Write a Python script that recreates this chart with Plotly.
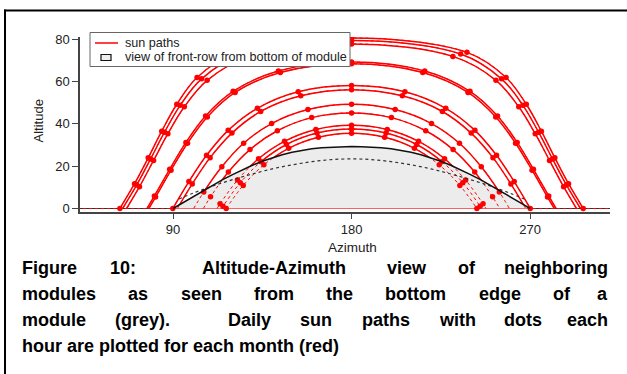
import plotly.graph_objects as go

# ---------------------------------------------------------------------------
# Sun position on each solar hour (azimuth, altitude in degrees), one list per
# month, morning to evening.  *_RISE / *_SET give the horizon crossing where it
# falls between two hours (None when it coincides with an hour point).
# ---------------------------------------------------------------------------
JAN_AZ = [115.2, 123.9, 134.4, 147.2, 162.6, 180.0, 197.4, 212.8, 225.6, 236.1, 244.8]
JAN_ALT = [1.1, 12.2, 22.1, 30.2, 35.6, 37.5, 35.6, 30.2, 22.1, 12.2, 1.1]
JAN_RISE, JAN_SET = 114.4, 245.6

FEB_AZ = [108.9, 117.9, 128.8, 142.6, 159.9, 180.0, 200.1, 217.4, 231.2, 242.1, 251.1]
FEB_ALT = [5.5, 17.2, 27.8, 36.7, 42.9, 45.1, 42.9, 36.7, 27.8, 17.2, 5.5]
FEB_RISE, FEB_SET = 105.3, 254.7

MAR_AZ = [99.7, 108.7, 119.7, 134.2, 154.4, 180.0, 205.6, 225.8, 240.3, 251.3, 260.3]
MAR_ALT = [11.6, 24.0, 35.6, 45.8, 53.2, 56.1, 53.2, 45.8, 35.6, 24.0, 11.6]
MAR_RISE, MAR_SET = 92.2, 267.8

APR_AZ = [81.2, 89.0, 97.3, 107.3, 121.3, 144.1, 180.0, 215.9, 238.7, 252.7, 262.7, 271.0, 278.8]
APR_ALT = [5.4, 18.1, 30.8, 43.2, 54.8, 64.2, 68.3, 64.2, 54.8, 43.2, 30.8, 18.1, 5.4]
APR_RISE, APR_SET = 77.8, 282.2

MAY_AZ = [73.1, 80.2, 87.4, 95.7, 107.2, 128.9, 180.0, 231.1, 252.8, 264.3, 272.6, 279.8, 286.9]
MAY_ALT = [10.3, 22.7, 35.3, 48.0, 60.5, 71.8, 77.7, 71.8, 60.5, 48.0, 35.3, 22.7, 10.3]
MAY_RISE, MAY_SET = 66.6, 293.4

JUN_AZ = [63.2, 70.6, 77.5, 84.3, 91.9, 102.1, 121.8, 180.0, 238.2, 257.9, 268.1, 275.7, 282.5, 289.4, 296.8]
JUN_ALT = [0.0, 11.7, 23.9, 36.5, 49.2, 61.8, 73.7, 80.5, 73.7, 61.8, 49.2, 36.5, 23.9, 11.7, 0.0]
JUN_RISE, JUN_SET = None, None

JUL_AZ = [71.7, 78.7, 85.7, 93.6, 104.4, 125.0, 180.0, 235.0, 255.6, 266.4, 274.3, 281.3, 288.3]
JUL_ALT = [11.1, 23.4, 36.0, 48.7, 61.2, 72.9, 79.3, 72.9, 61.2, 48.7, 36.0, 23.4, 11.1]
JUL_RISE, JUL_SET = 64.6, 295.4

AUG_AZ = [80.6, 88.3, 96.5, 106.4, 120.3, 143.1, 180.0, 216.9, 239.7, 253.6, 263.5, 271.7, 279.4]
AUG_ALT = [5.9, 18.5, 31.2, 43.7, 55.3, 64.9, 69.1, 64.9, 55.3, 43.7, 31.2, 18.5, 5.9]
AUG_RISE, AUG_SET = 76.9, 283.1

SEP_AZ = [89.9, 98.0, 106.9, 117.8, 132.5, 153.1, 180.0, 206.9, 227.5, 242.2, 253.1, 262.0, 270.1]
SEP_ALT = [0.0, 12.7, 25.1, 36.9, 47.3, 55.1, 58.1, 55.1, 47.3, 36.9, 25.1, 12.7, 0.0]
SEP_RISE, SEP_SET = None, None

OCT_AZ = [105.5, 114.6, 125.6, 139.7, 158.0, 180.0, 202.0, 220.3, 234.4, 245.4, 254.5]
OCT_ALT = [7.8, 19.7, 30.8, 40.1, 46.7, 49.2, 46.7, 40.1, 30.8, 19.7, 7.8]
OCT_RISE, OCT_SET = 100.4, 259.6

NOV_AZ = [113.7, 122.5, 133.1, 146.2, 162.0, 180.0, 198.0, 213.8, 226.9, 237.5, 246.3]
NOV_ALT = [2.2, 13.4, 23.5, 31.7, 37.3, 39.3, 37.3, 31.7, 23.5, 13.4, 2.2]
NOV_RISE, NOV_SET = 112.2, 247.8

DEC_AZ = [116.8, 125.4, 135.8, 148.3, 163.3, 180.0, 196.7, 211.7, 224.2, 234.6, 243.2]
DEC_ALT = [0.0, 10.9, 20.6, 28.4, 33.6, 35.5, 33.6, 28.4, 20.6, 10.9, 0.0]
DEC_RISE, DEC_SET = None, None

# Top edge of the front row as seen from the bottom edge of a module
ROW_AZ = [90, 95, 100, 105, 110, 115, 120, 125, 130, 135, 140, 145, 150, 155, 160, 165, 170, 175, 180,
          185, 190, 195, 200, 205, 210, 215, 220, 225, 230, 235, 240, 245, 250, 255, 260, 265, 270]
ROW_ALT = [0.0, 2.8, 5.6, 8.3, 11.0, 13.6, 16.0, 18.3, 20.4, 22.3, 24.0, 25.4, 26.6, 27.5, 28.2, 28.7, 29.0, 29.2, 29.3,
           29.2, 29.0, 28.7, 28.2, 27.5, 26.6, 25.4, 24.0, 22.3, 20.4, 18.3, 16.0, 13.6, 11.0, 8.3, 5.6, 2.8, 0.0]

# Second (dashed) outline of the front row
EDGE_AZ = [93, 100, 110, 120, 130, 140, 150, 160, 170, 180, 190, 200, 210, 220, 230, 240, 250, 260, 267]
EDGE_ALT = [4.5, 7.2, 10.6, 13.6, 16.3, 18.7, 20.6, 22.1, 23.1, 23.4, 23.1, 22.1, 20.6, 18.7, 16.3, 13.6, 10.6, 7.2, 4.5]

# Horizon segments
HORIZON_AZ = [43.1, 310.3]
HORIZON_ALT = [0, 0]

X_TICKS = [90, 180, 270]
Y_TICKS = [0, 20, 40, 60, 80]

PATHS = [
    (JAN_AZ, JAN_ALT, JAN_RISE, JAN_SET), (FEB_AZ, FEB_ALT, FEB_RISE, FEB_SET),
    (MAR_AZ, MAR_ALT, MAR_RISE, MAR_SET), (APR_AZ, APR_ALT, APR_RISE, APR_SET),
    (MAY_AZ, MAY_ALT, MAY_RISE, MAY_SET), (JUN_AZ, JUN_ALT, JUN_RISE, JUN_SET),
    (JUL_AZ, JUL_ALT, JUL_RISE, JUL_SET), (AUG_AZ, AUG_ALT, AUG_RISE, AUG_SET),
    (SEP_AZ, SEP_ALT, SEP_RISE, SEP_SET), (OCT_AZ, OCT_ALT, OCT_RISE, OCT_SET),
    (NOV_AZ, NOV_ALT, NOV_RISE, NOV_SET), (DEC_AZ, DEC_ALT, DEC_RISE, DEC_SET),
]

RED = "#ff0000"
W, H = 627, 374
ML, MR, MT, MB = 80, 17, 37, 162
PW, PH = W - ML - MR, H - MT - MB


def px_x(px):
    return (px - ML) / PW


def px_y(py):
    return 1 - (py - MT) / PH


def full_path(az, alt, rise, sett):
    xs, ys = list(az), list(alt)
    if rise is not None:
        xs = [rise] + xs + [sett]
        ys = [0.0] + ys + [0.0]
    return xs, ys


fig = go.Figure()

# horizon: red trace line plus dark dotted line
fig.add_trace(go.Scatter(x=HORIZON_AZ, y=HORIZON_ALT, mode="lines",
                         line=dict(color=RED, width=1), hoverinfo="skip"))

# solid sun paths (the part behind the front row is covered by the grey area)
for az, alt, rise, sett in PATHS:
    xs, ys = full_path(az, alt, rise, sett)
    fig.add_trace(go.Scatter(x=xs, y=ys, mode="lines",
                             line=dict(color=RED, width=1.5, shape="spline"),
                             hoverinfo="skip"))

# front row seen from the bottom of the module
fig.add_trace(go.Scatter(x=ROW_AZ, y=ROW_ALT, mode="lines", fill="toself",
                         fillcolor="#ececec", line=dict(width=0), hoverinfo="skip"))

fig.add_trace(go.Scatter(x=[43.1, 90], y=[0, 0], mode="lines",
                         line=dict(color="#333333", width=1, dash="dot"), hoverinfo="skip"))
fig.add_trace(go.Scatter(x=[270, 310.3], y=[0, 0], mode="lines",
                         line=dict(color="#333333", width=1, dash="dot"), hoverinfo="skip"))
fig.add_trace(go.Scatter(x=[90, 270], y=[0, 0], mode="lines",
                         line=dict(color="#ff6060", width=1), hoverinfo="skip"))

# dotted sun paths visible through the grey area, with hourly dots
for az, alt, rise, sett in PATHS:
    xs, ys = full_path(az, alt, rise, sett)
    fig.add_trace(go.Scatter(x=xs, y=ys, mode="lines",
                             line=dict(color=RED, width=1, shape="spline", dash="dot"),
                             hoverinfo="skip"))
    fig.add_trace(go.Scatter(x=az, y=alt, mode="markers",
                             marker=dict(color=RED, size=5.5), hoverinfo="skip"))

fig.add_trace(go.Scatter(x=EDGE_AZ, y=EDGE_ALT, mode="lines",
                         line=dict(color="#333333", width=1.2, dash="dot", shape="spline"),
                         hoverinfo="skip"))
fig.add_trace(go.Scatter(x=ROW_AZ, y=ROW_ALT, mode="lines",
                         line=dict(color="#111111", width=1.5), hoverinfo="skip"))

FONT = "Liberation Sans, Arial, sans-serif"
AXIS_COLOR = "#444444"

fig.update_layout(
    width=W, height=H, margin=dict(l=ML, r=MR, t=MT, b=MB, pad=0),
    paper_bgcolor="white", plot_bgcolor="white", showlegend=False,
    font=dict(family=FONT, size=13, color="#222222"),
    xaxis=dict(range=[43.1, 310.3], tickvals=X_TICKS, ticks="outside", ticklen=5,
               tickwidth=1.2, tickcolor=AXIS_COLOR, showline=True, linecolor=AXIS_COLOR,
               linewidth=1.5, showgrid=False, zeroline=False, tickfont=dict(size=13)),
    yaxis=dict(range=[-1.65, 80.95], tickvals=Y_TICKS, ticks="outside", ticklen=6,
               tickwidth=1.2, tickcolor=AXIS_COLOR, showline=True, linecolor=AXIS_COLOR,
               linewidth=1.5, showgrid=False, zeroline=False, tickfont=dict(size=13)),
)

shapes = []
annotations = []

# axis titles
annotations.append(dict(text="Azimuth", x=px_x(352), y=px_y(247), xref="paper", yref="paper",
                        showarrow=False, font=dict(size=13.5), xanchor="center", yanchor="middle"))
annotations.append(dict(text="Altitude", x=px_x(37.5), y=px_y(121), xref="paper", yref="paper",
                        showarrow=False, font=dict(size=13), textangle=-90,
                        xanchor="center", yanchor="middle"))

# legend box
shapes.append(dict(type="rect", xref="paper", yref="paper", x0=px_x(90), x1=px_x(350),
                   y0=px_y(66.5), y1=px_y(32.5), line=dict(color="#666666", width=1),
                   fillcolor="white", layer="above"))
shapes.append(dict(type="line", xref="paper", yref="paper", x0=px_x(95), x1=px_x(118),
                   y0=px_y(43), y1=px_y(43), line=dict(color=RED, width=1.5), layer="above"))
shapes.append(dict(type="rect", xref="paper", yref="paper", x0=px_x(101), x1=px_x(111),
                   y0=px_y(60.5), y1=px_y(54.5), line=dict(color="#111111", width=1.2),
                   fillcolor="#eeeeee", layer="above"))
annotations.append(dict(text="sun paths", x=px_x(123), y=px_y(43), xref="paper", yref="paper",
                        showarrow=False, font=dict(size=12.6), xanchor="left", yanchor="middle"))
annotations.append(dict(text="view of front-row from bottom of module", x=px_x(123), y=px_y(57.5),
                        xref="paper", yref="paper", showarrow=False, font=dict(size=12.6),
                        xanchor="left", yanchor="middle"))

# figure frame (top and left rules)
shapes.append(dict(type="line", xref="paper", yref="paper", x0=px_x(4), x1=px_x(627),
                   y0=px_y(10.5), y1=px_y(10.5), line=dict(color="black", width=2), layer="above"))
shapes.append(dict(type="line", xref="paper", yref="paper", x0=px_x(5), x1=px_x(5),
                   y0=px_y(9.5), y1=px_y(374), line=dict(color="black", width=2), layer="above"))

# justified caption, placed word by word (left edge 20 px, right edge 610 px)
CAPTION = [
    (268, [("Figure", 20, "left"), ("10:", 107.9, "left"), ("Altitude-Azimuth", 199.6, "left"),
           ("view", 384.5, "left"), ("of", 456.4, "left"), ("neighboring", 610, "right")]),
    (294, [("modules", 20, "left"), ("as", 126.3, "left"), ("seen", 178.5, "left"),
           ("from", 251.8, "left"), ("the", 324.0, "left"), ("bottom", 383.3, "left"),
           ("edge", 476.5, "left"), ("of", 550.8, "left"), ("a", 610, "right")]),
    (320, [("module", 20, "left"), ("(grey).", 113.1, "left"), ("Daily", 226.3, "left"),
           ("sun", 298.4, "left"), ("paths", 359.5, "left"), ("with", 436.6, "left"),
           ("dots", 501.7, "left"), ("each", 610, "right")]),
    (346, [("hour are plotted for each month (red)", 20, "left")]),
]
for yc, words in CAPTION:
    for word, xp, anchor in words:
        annotations.append(dict(text=word, x=px_x(xp), y=px_y(yc), xref="paper", yref="paper",
                                showarrow=False, xanchor=anchor, yanchor="middle",
                                font=dict(size=18, color="black", family=FONT, weight="bold")))

fig.update_layout(shapes=shapes, annotations=annotations)
fig.write_html("out.html")
